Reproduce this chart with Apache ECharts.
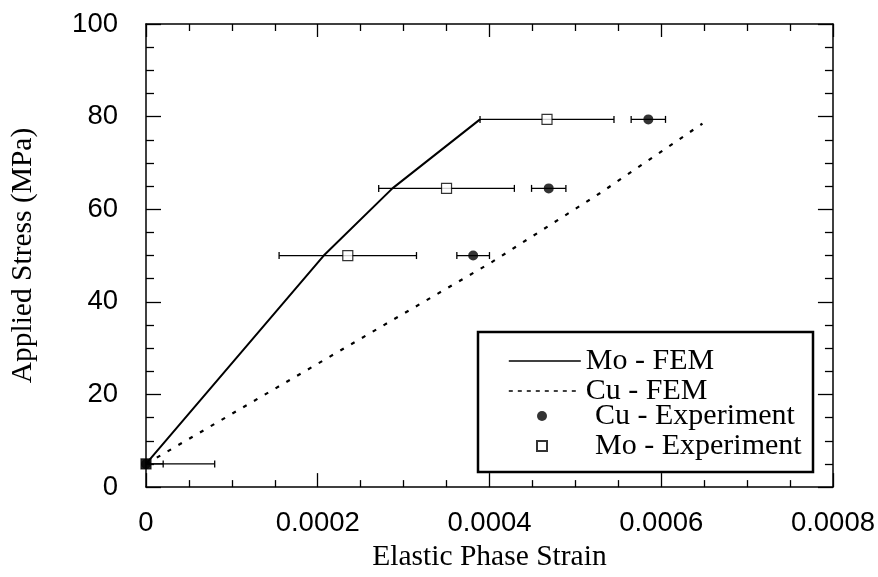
<!DOCTYPE html>
<html>
<head>
<meta charset="utf-8">
<title>Elastic Phase Strain vs Applied Stress</title>
<script src="https://cdn.jsdelivr.net/npm/echarts@6/dist/echarts.min.js"></script>
<style>
  html, body { margin: 0; padding: 0; background: #fff; }
  #chart { width: 878px; height: 577px; }
</style>
</head>
<body>
<div id="chart"></div>
<script>
// Applied stress levels (MPa) at which strains were computed / measured
const stressLevels = [5, 50, 64.5, 79.4];

// FEM predictions
const moFemStrain = [0, 0.000207, 0.000287, 0.000389];
const moFemStress = [5, 50, 64.5, 79.4];
const cuFemStrain = [0, 0.000402, 0.000529, 0.000648];
const cuFemStress = [5, 48.5, 63.5, 78.5];

// Diffraction measurements: mean strain and half-width of the error bar
const cuExpStrain = [0, 0.000381, 0.000469, 0.000585];
const cuExpErr    = [0.00002, 0.000019, 0.00002, 0.00002];
const moExpStrain = [0, 0.000235, 0.00035, 0.000467];
const moExpErr    = [0.00008, 0.00008, 0.000079, 0.000078];

// Axis ticks
const strainTicks = [0, 0.0002, 0.0004, 0.0006, 0.0008];
const stressTicks = [0, 20, 40, 60, 80, 100];

const SERIF = '"Liberation Serif", "Times New Roman", serif';
const SANS = '"Liberation Sans", Arial, sans-serif';
const SQUARE = 'path://M0,0H10V10H0Z';

const pairs = (xs, ys) => xs.map((x, i) => [x, ys[i]]);
const errRows = (xs, errs) => xs.map((x, i) => [x - errs[i], stressLevels[i], x + errs[i]]);

function errorBar(params, api) {
  const y = api.value(1);
  const lo = api.coord([api.value(0), y]);
  const hi = api.coord([api.value(2), y]);
  const cap = 3.5;
  const style = { stroke: '#000', lineWidth: 1.3, fill: null };
  return {
    type: 'group',
    children: [
      { type: 'line', shape: { x1: lo[0], y1: lo[1], x2: hi[0], y2: hi[1] }, style },
      { type: 'line', shape: { x1: lo[0], y1: lo[1] - cap, x2: lo[0], y2: lo[1] + cap }, style },
      { type: 'line', shape: { x1: hi[0], y1: hi[1] - cap, x2: hi[0], y2: hi[1] + cap }, style }
    ]
  };
}

const xMin = strainTicks[0], xMax = strainTicks[strainTicks.length - 1];
const xStep = strainTicks[1] - strainTicks[0];
const yMin = stressTicks[0], yMax = stressTicks[stressTicks.length - 1];
const yStep = stressTicks[1] - stressTicks[0];

const frameLine = () => ({ show: true, onZero: false, lineStyle: { color: '#000', width: 1.5 } });
const tickStyle = () => ({ color: '#000', width: 1.3 });

function xAxisDef(position, showLabels, majorLen) {
  return {
    type: 'value', position, min: xMin, max: xMax, interval: xStep,
    axisLine: frameLine(),
    axisTick: { show: true, inside: true, length: majorLen, lineStyle: tickStyle() },
    minorTick: { show: true, splitNumber: 4, length: 7, lineStyle: tickStyle() },
    splitLine: { show: false }, minorSplitLine: { show: false },
    axisLabel: {
      show: showLabels, margin: 22, color: '#000', fontFamily: SANS, fontSize: 27.5,
      showMinLabel: true, showMaxLabel: true,
      formatter: v => (v === 0 ? '0' : v.toFixed(4))
    },
    name: showLabels ? 'Elastic Phase Strain' : '',
    nameLocation: 'middle', nameGap: 51,
    nameTextStyle: { fontFamily: SERIF, fontSize: 29.5, color: '#000' }
  };
}

function yAxisDef(position, showLabels) {
  return {
    type: 'value', position, min: yMin, max: yMax, interval: yStep,
    axisLine: frameLine(),
    axisTick: { show: true, inside: true, length: 15, lineStyle: tickStyle() },
    minorTick: { show: true, splitNumber: 4, length: 8, lineStyle: tickStyle() },
    splitLine: { show: false }, minorSplitLine: { show: false },
    axisLabel: {
      show: showLabels, margin: 28, color: '#000', fontFamily: SANS, fontSize: 27.5,
      showMinLabel: true, showMaxLabel: true
    },
    name: showLabels ? 'Applied Stress (MPa)' : '',
    nameLocation: 'middle', nameRotate: 90, nameGap: 108,
    nameTextStyle: { fontFamily: SERIF, fontSize: 29.5, color: '#000' }
  };
}

const chart = echarts.init(document.getElementById('chart'), null, { renderer: 'canvas' });

chart.setOption({
  backgroundColor: '#fff',
  animation: false,
  grid: { left: 142, right: 45, top: 24, bottom: 89 },
  xAxis: [xAxisDef('bottom', true, 14), xAxisDef('top', false, 13)],
  yAxis: [yAxisDef('left', true), yAxisDef('right', false)],
  graphic: [{
    type: 'rect', z: 10,
    shape: { x: 478, y: 332, width: 335, height: 140 },
    style: { fill: '#fff', stroke: '#000', lineWidth: 2.5 }
  }],
  legend: [
    {
      // model curves: line samples only
      z: 20, orient: 'vertical', align: 'left', left: 503, top: 341, padding: 5,
      itemWidth: 72, itemHeight: 12, itemGap: 0,
      textStyle: { fontFamily: SERIF, fontSize: 30, lineHeight: 27.5, color: '#000' },
      itemStyle: { color: 'rgba(0,0,0,0)', borderWidth: 0, opacity: 0 },
      lineStyle: { width: 1.6 },
      data: [
        { name: 'Mo - FEM' },
        { name: 'Cu - FEM', lineStyle: { type: [4, 5], width: 1.6 } }
      ]
    },
    {
      // measurements: marker then label
      z: 20, orient: 'vertical', align: 'left', left: 531, top: 396, padding: 5,
      itemWidth: 10, itemHeight: 10, itemGap: 0,
      textStyle: {
        fontFamily: SERIF, fontSize: 30, lineHeight: 27.5, color: '#000',
        padding: [0, 0, 0, 43]
      },
      data: [{ name: 'Cu - Experiment' }, { name: 'Mo - Experiment' }]
    }
  ],
  series: [
    {
      name: 'Mo - FEM', type: 'line', symbol: 'none',
      data: pairs(moFemStrain, moFemStress),
      lineStyle: { color: '#000', width: 2 }, itemStyle: { color: '#000' }, z: 3
    },
    {
      name: 'Cu - FEM', type: 'line', symbol: 'none',
      data: pairs(cuFemStrain, cuFemStress),
      lineStyle: { color: '#000', width: 2.2, type: [4, 8.5] }, itemStyle: { color: '#000' }, z: 3
    },
    {
      name: 'Mo error', type: 'custom', renderItem: errorBar, clip: true,
      encode: { x: [0, 2], y: 1 }, data: errRows(moExpStrain, moExpErr), z: 2
    },
    {
      name: 'Cu error', type: 'custom', renderItem: errorBar, clip: true,
      encode: { x: [0, 2], y: 1 }, data: errRows(cuExpStrain, cuExpErr), z: 2
    },
    {
      name: 'Mo - Experiment', type: 'scatter', symbol: SQUARE, symbolKeepAspect: true, symbolSize: 10,
      data: moExpStrain.map((x, i) => (x === 0
        ? { value: [x, stressLevels[i]], itemStyle: { color: '#000' } }
        : [x, stressLevels[i]])),
      itemStyle: { color: '#fff', borderColor: '#000', borderWidth: 1.2 }, z: 4
    },
    {
      name: 'Cu - Experiment', type: 'scatter', symbol: 'circle', symbolSize: 10,
      data: pairs(cuExpStrain, stressLevels),
      itemStyle: { color: '#000' }, z: 5
    }
  ]
});
</script>
</body>
</html>
